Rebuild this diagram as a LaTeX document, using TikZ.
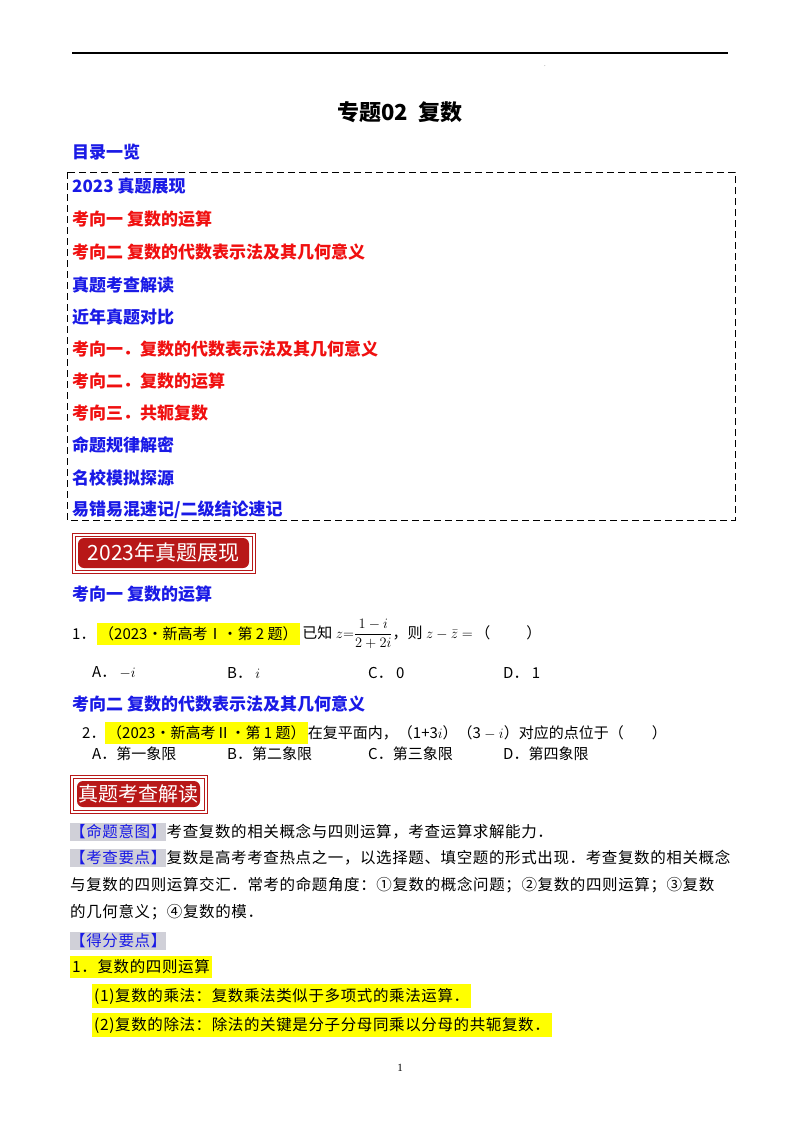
\documentclass[tikz,border=0pt]{standalone}
\usepackage{fontspec}
\setmainfont{Liberation Serif}
\newfontfamily\cjk{Noto Sans CJK SC}
\newfontfamily\cjkm{Noto Sans CJK SC Medium}
\newfontfamily\cjkb{Noto Sans CJK SC}[LetterSpace=4]
\definecolor{tblue}{HTML}{1A1AE6}
\definecolor{tred}{HTML}{F01010}
\definecolor{bred}{HTML}{B81818}
\definecolor{hy}{HTML}{FFFF00}
\definecolor{gb}{HTML}{D0D0D8}
\begin{document}
\begin{tikzpicture}[x=1pt,y=-1pt,
  toc/.style={anchor=west,inner sep=0pt,font=\fontsize{17}{17}\selectfont\cjk\bfseries},
  body/.style={anchor=west,inner sep=0pt,font=\fontsize{15.5}{16}\selectfont\cjkb},
  opt/.style={anchor=west,inner sep=0pt,font=\fontsize{15}{16}\selectfont\cjk},
  hl/.style={fill=hy,inner xsep=2pt,inner ysep=4pt,anchor=west},
  tag/.style={fill=gb,inner xsep=0pt,inner ysep=2pt,anchor=west,text=tblue}]
\useasboundingbox (0,0) rectangle (800,1132);
\fill[white] (0,0) rectangle (800,1132);
\draw[line width=1.2pt] (72,53) -- (728,53);
\node[inner sep=0pt,font=\tiny] (dot) at (545,66) {.};
\node[inner sep=0pt,font=\fontsize{22}{23}\selectfont\cjk\bfseries] (title) at (400,112) {专题02\ \ 复数};
\node[toc,text=tblue] (ml) at (72,152) {目录一览};
\draw[dashed,line width=0.8pt,dash pattern=on 7pt off 4pt] (67,172) rectangle (735,520);
\node[toc,text=tblue] (t1) at (72,186) {2023 真题展现};
\node[toc,text=tred] (t2) at (72,219) {考向一\ 复数的运算};
\node[toc,text=tred] (t3) at (72,252) {考向二\ 复数的代数表示法及其几何意义};
\node[toc,text=tblue] (t4) at (72,285) {真题考查解读};
\node[toc,text=tblue] (t5) at (72,317) {近年真题对比};
\node[toc,text=tred] (t6) at (72,349) {考向一．复数的代数表示法及其几何意义};
\node[toc,text=tred] (t7) at (72,381) {考向二．复数的运算};
\node[toc,text=tred] (t8) at (72,413) {考向三．共轭复数};
\node[toc,text=tblue] (t9) at (72,445) {命题规律解密};
\node[toc,text=tblue] (t10) at (72,478) {名校模拟探源};
\node[toc,text=tblue] (t11) at (72,510) {易错易混速记/二级结论速记};
% banner 1
\draw[bred,line width=1pt] (72,533) rectangle (255,573);
\draw[bred,line width=0.6pt] (75,536) rectangle (252,570);
\fill[bred,rounded corners=6pt] (78,538) rectangle (249,568);
\node[inner sep=0pt,text=white,font=\fontsize{21}{22}\selectfont\cjk] (b1) at (163.5,553) {2023年真题展现};
\node[toc,text=tblue] (k1) at (72,594) {考向一\ 复数的运算};
\node[opt] (q1n) at (72,634) {1．};
\node[opt,hl] (q1h) at (97,634) {（2023•新高考Ⅰ•第 2 题）};
\node[opt,anchor=west] (q1) at (q1h.east) {\,已知 $z{=}\displaystyle\frac{1-i}{2+2i}$，则 $z-\bar z\;{=}$\,（\hspace{36pt}）};
\node[opt] (a1) at (92,673) {A．\ $-i$};
\node[opt] (a2) at (227,673) {B．\ $i$};
\node[opt] (a3) at (368,673) {C．\ 0};
\node[opt] (a4) at (503,673) {D．\ 1};
\node[toc,text=tblue] (k2) at (72,704) {考向二\ 复数的代数表示法及其几何意义};
\node[opt] (q2n) at (82,733) {2．};
\node[opt,hl] (q2h) at (105,733) {（2023•新高考Ⅱ•第 1 题）};
\node[opt,anchor=west] (q2) at (q2h.east) {在复平面内，（1+3$i$）（3 $-$ $i$）对应的点位于（\hspace{28pt}）};
\node[opt] (c1) at (92,754) {A．第一象限};
\node[opt] (c2) at (227,754) {B．第二象限};
\node[opt] (c3) at (368,754) {C．第三象限};
\node[opt] (c4) at (503,754) {D．第四象限};
% banner 2
\draw[bred,line width=1pt] (70,775) rectangle (207,813);
\draw[bred,line width=0.6pt] (73,778) rectangle (204,810);
\fill[bred,rounded corners=6pt] (77,781) rectangle (200,807);
\node[inner sep=0pt,text=white,font=\fontsize{20}{21}\selectfont\cjk] (b2) at (138.5,794) {真题考查解读};
\node[body,tag] (g1) at (70,832) {【命题意图】};
\node[body] (p1) at (g1.east) {考查复数的相关概念与四则运算，考查运算求解能力．};
\node[body,tag] (g2) at (70,858) {【考查要点】};
\node[body] (p2) at (g2.east) {复数是高考考查热点之一，以选择题、填空题的形式出现．考查复数的相关概念};
\node[body] (p3) at (70,885) {与复数的四则运算交汇．常考的命题角度：①复数的概念问题；②复数的四则运算；③复数};
\node[body] (p4) at (70,912) {的几何意义；④复数的模．};
\node[body,tag] (p5) at (70,941) {【得分要点】};
\node[body,hl] (p6) at (70,967) {1．复数的四则运算};
\node[body,hl] (p7) at (92,996) {(1)复数的乘法：复数乘法类似于多项式的乘法运算．};
\node[body,hl] (p8) at (92,1025) {(2)复数的除法：除法的关键是分子分母同乘以分母的共轭复数．};
\node[inner sep=0pt,font=\fontsize{11}{12}\selectfont] (pg) at (400,1068) {1};
\end{tikzpicture}
\end{document}
